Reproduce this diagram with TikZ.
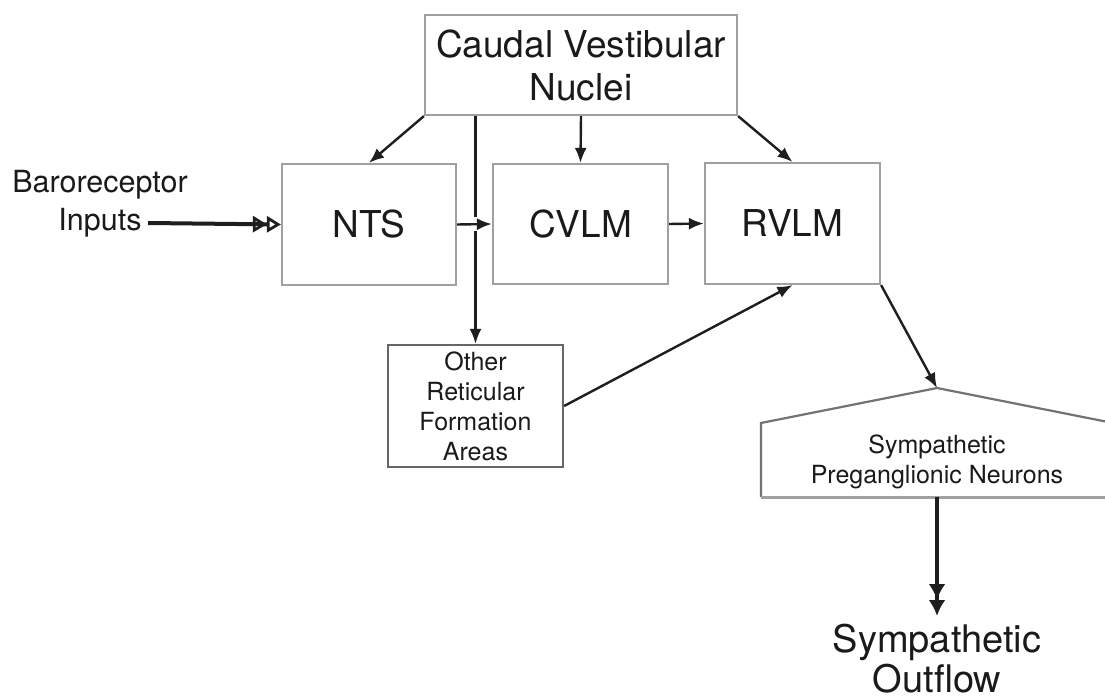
\documentclass[tikz,border=0pt]{standalone}
\usepackage{fontspec}
\setmainfont{TeX Gyre Heros}
\usetikzlibrary{arrows.meta,calc}
\definecolor{boxgray}{HTML}{A0A0A0}
\definecolor{ink}{HTML}{1E1E1E}
\definecolor{txt}{HTML}{1A1A1A}
\tikzset{
  blk/.style={draw=boxgray, line width=2.2pt, rectangle, inner sep=0pt, align=center, text=txt},
  bigfont/.style={font=\fontsize{37}{43}\selectfont},
  smallfont/.style={font=\fontsize{25}{30}\selectfont},
  conn/.style={draw=ink, line width=2.4pt, -{Latex[length=15pt,width=12pt]}},
  fat/.style={draw=ink, line width=4pt},
  lbl/.style={align=center, text=txt, inner sep=0pt}
}
\begin{document}
\begin{tikzpicture}[x=1pt,y=-1pt]
\clip (0,0) rectangle (1105,700);
\fill[white] (0,0) rectangle (1105,700);
% boxes
\node[blk, bigfont, minimum width=312pt, minimum height=100pt] (cvn) at (581,65) {Caudal Vestibular\\Nuclei};
\node[blk, bigfont, minimum width=174pt, minimum height=121pt] (nts) at (369,224.5) {NTS};
\node[blk, bigfont, minimum width=175pt, minimum height=120pt] (cvlm) at (580.5,224) {CVLM};
\node[blk, bigfont, minimum width=175pt, minimum height=121pt] (rvlm) at (792.5,223.5) {RVLM};
\node[blk, smallfont, draw=gray!80!black, minimum width=175pt, minimum height=122pt] (other) at (475.5,406) {Other\\Reticular\\Formation\\Areas};
% pentagon
\coordinate (apex) at (937,388);
\coordinate (pbot) at (937,497);
\draw[draw=gray!90!black, line width=2.2pt, line join=miter] (761,497) -- (761,423) -- (apex) -- (1113,423) -- (1113,497);
\draw[draw=boxgray, line width=3pt] (761,497) -- (1113,497);
\node[lbl, smallfont] (spn) at (937,462) {Sympathetic\\Preganglionic Neurons};
% labels
\node[lbl, font=\fontsize{30.5}{38}\selectfont] (baro) at (100,204) {Baroreceptor\\Inputs};
\node[lbl, font=\fontsize{38}{40}\selectfont] (out) at (937,659) {Sympathetic\\Outflow};
\coordinate (barostart) at (148,223);
\coordinate (outend) at (937,616);
% connectors from CVN
\draw[conn] (cvn.south west) -- (nts.north);
\draw[conn] (cvn.south) -- (cvlm.north);
\draw[conn] (cvn.south east) -- (rvlm.north);
\coordinate (vtop) at (other.north |- cvn.south);
\coordinate (vcross) at (other.north |- nts.east);
\draw[draw=ink, line width=2.4pt] (vtop) -- ($(vcross)+(0,-7)$);
\draw[conn] ($(vcross)+(0,7)$) -- (other.north);
% horizontal flow
\draw[conn] (nts.east) -- (cvlm.west);
\draw[conn] (cvlm.east) -- (rvlm.west);
\draw[fat, -{Triangle[open,length=14pt,width=16pt,line width=2.8pt]Triangle[open,length=14pt,width=16pt,line width=2.8pt]}] (barostart) -- (nts.west);
% other to RVLM, RVLM to pentagon
\draw[conn] (other.east) -- (rvlm.south);
\draw[conn] (rvlm.south east) -- (apex);
% output
\draw[fat, -{Latex[length=16pt,width=17pt]Latex[length=16pt,width=17pt]}] (pbot) -- (outend);
\end{tikzpicture}
\end{document}
